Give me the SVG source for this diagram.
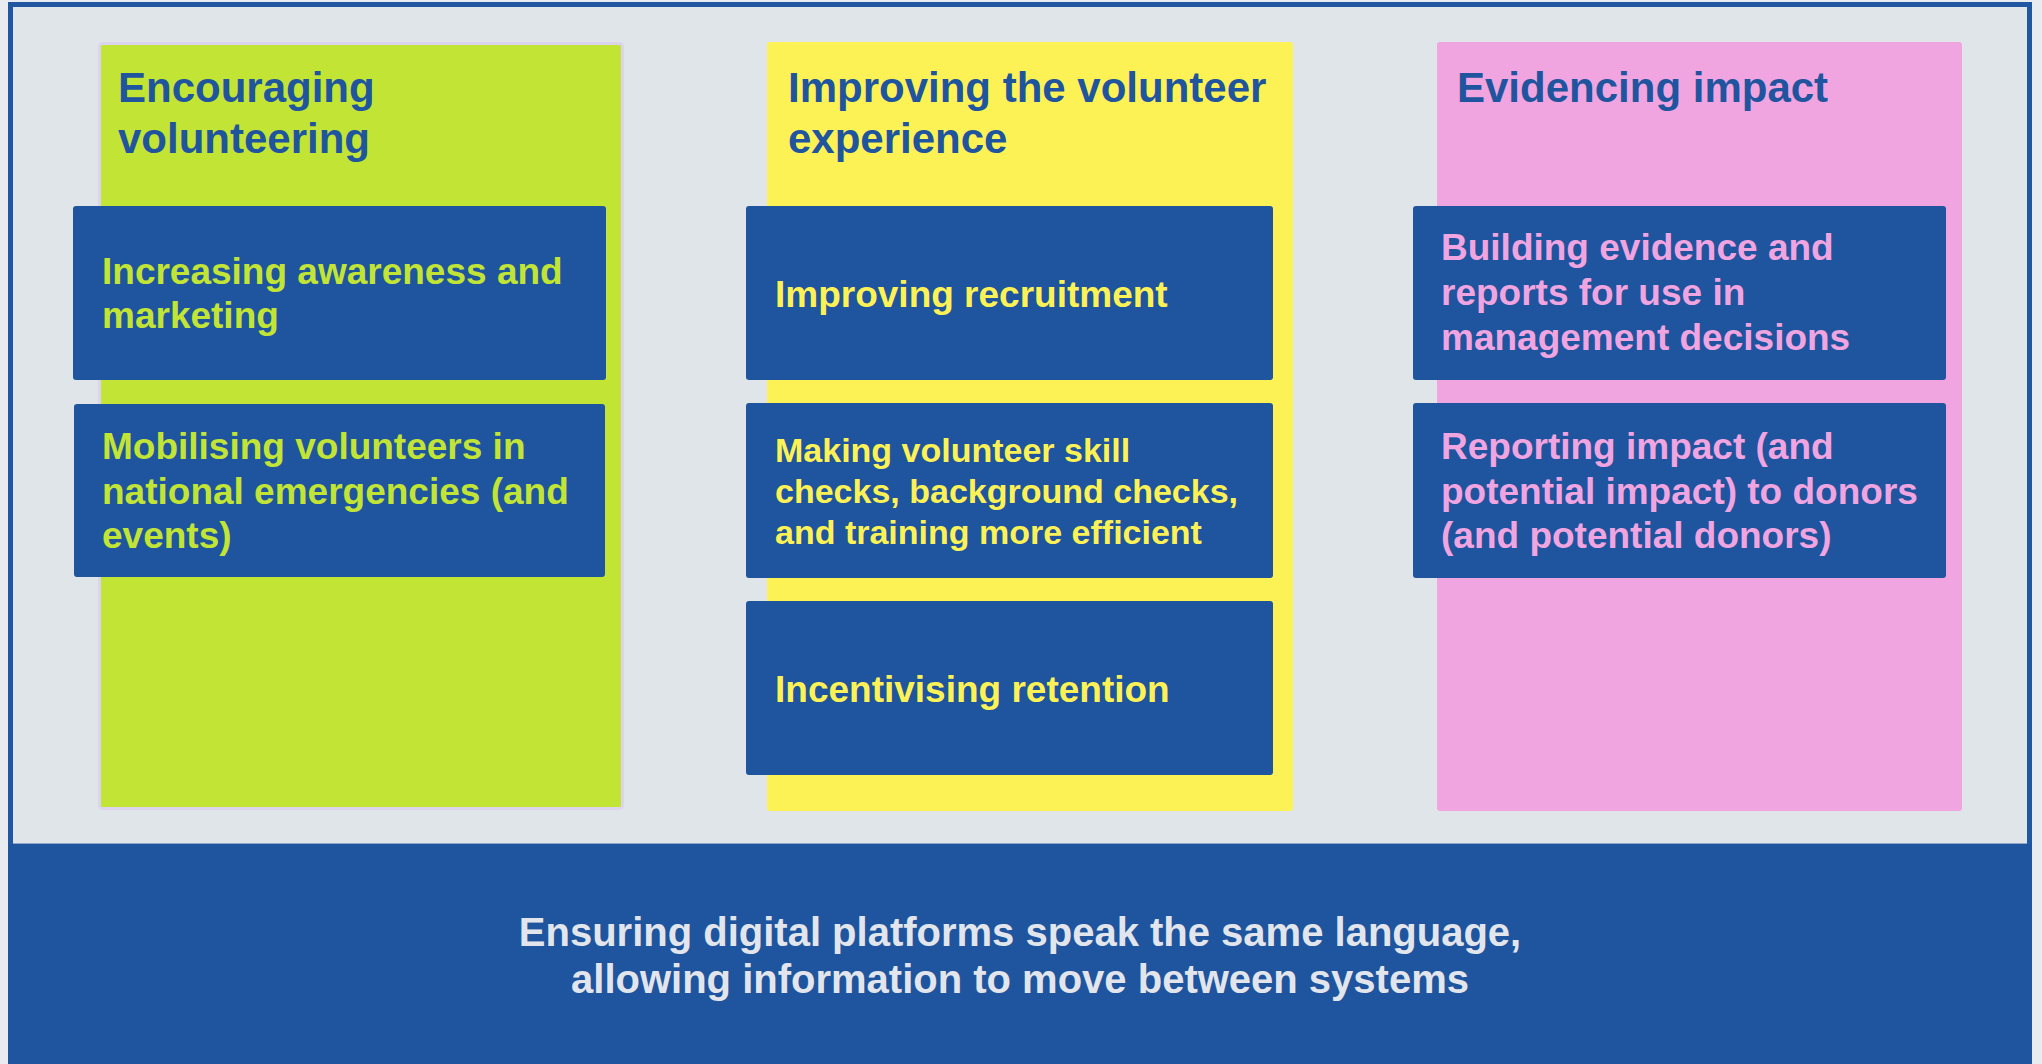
<svg xmlns="http://www.w3.org/2000/svg" width="2042" height="1064" viewBox="0 0 2042 1064">
  <style>
    text { font-family: "Liberation Sans", Arial, Helvetica, sans-serif; font-weight: bold; }
    .title { font-size: 42px; fill: #1f549e; }
    .item { fill: #1f549e; }
    .t37 { font-size: 37px; }
    .t34 { font-size: 34px; }
    .green { fill: #c2e435; }
    .yellow { fill: #fdf255; }
    .pink { fill: #f0a5e1; }
    .band-text { font-size: 40px; fill: #e2e6ec; }
  </style>

  <!-- page and frame -->
  <rect x="0" y="0" width="2042" height="1064" fill="#e8ecf0"/>
  <rect x="10.5" y="4.5" width="2019" height="1070" fill="#e0e5ea" stroke="#2157a1" stroke-width="5"/>

  <!-- column: Encouraging volunteering -->
  <g id="col-encouraging">
    <rect x="99.5" y="43.5" width="523" height="765" rx="3" fill="#c2e435" stroke="#dcd4ec" stroke-width="3"/>
    <text class="title" x="118" y="102">Encouraging</text>
    <text class="title" x="118" y="153">volunteering</text>
  </g>
  <g id="awareness">
    <rect class="item" x="73" y="206" width="533" height="174" rx="3"/>
    <text class="t37 green" x="102" y="284">Increasing awareness and</text>
    <text class="t37 green" x="102" y="328">marketing</text>
  </g>
  <g id="mobilising">
    <rect class="item" x="74" y="404" width="531" height="173" rx="3"/>
    <text class="t37 green" x="102" y="459">Mobilising volunteers in</text>
    <text class="t37 green" x="102" y="504">national emergencies (and</text>
    <text class="t37 green" x="102" y="548">events)</text>
  </g>

  <!-- column: Improving the volunteer experience -->
  <g id="col-experience">
    <rect x="767" y="42" width="526" height="769" rx="3" fill="#fdf255"/>
    <text class="title" x="788" y="102">Improving the volunteer</text>
    <text class="title" x="788" y="153">experience</text>
  </g>
  <g id="recruitment">
    <rect class="item" x="746" y="206" width="527" height="174" rx="3"/>
    <text class="t37 yellow" x="775" y="307">Improving recruitment</text>
  </g>
  <g id="checks">
    <rect class="item" x="746" y="403" width="527" height="175" rx="3"/>
    <text class="t34 yellow" x="775" y="462">Making volunteer skill</text>
    <text class="t34 yellow" x="775" y="503">checks, background checks,</text>
    <text class="t34 yellow" x="775" y="544">and training more efficient</text>
  </g>
  <g id="retention">
    <rect class="item" x="746" y="601" width="527" height="174" rx="3"/>
    <text class="t37 yellow" x="775" y="702">Incentivising retention</text>
  </g>

  <!-- column: Evidencing impact -->
  <g id="col-impact">
    <rect x="1437" y="42" width="525" height="769" rx="3" fill="#f0a5e1"/>
    <text class="title" x="1457" y="102">Evidencing impact</text>
  </g>
  <g id="evidence">
    <rect class="item" x="1413" y="206" width="533" height="174" rx="3"/>
    <text class="t37 pink" x="1441" y="260">Building evidence and</text>
    <text class="t37 pink" x="1441" y="305">reports for use in</text>
    <text class="t37 pink" x="1441" y="350">management decisions</text>
  </g>
  <g id="reporting">
    <rect class="item" x="1413" y="403" width="533" height="175" rx="3"/>
    <text class="t37 pink" x="1441" y="459">Reporting impact (and</text>
    <text class="t37 pink" x="1441" y="504">potential impact) to donors</text>
    <text class="t37 pink" x="1441" y="548">(and potential donors)</text>
  </g>

  <!-- foundation band -->
  <g id="foundation">
    <rect x="8" y="844" width="2024" height="220" fill="#1f549e"/>
    <line x1="13" y1="843.5" x2="2027" y2="843.5" stroke="#8fa6c8" stroke-width="1"/>
    <text class="band-text" x="1020" y="946" text-anchor="middle">Ensuring digital platforms speak the same language,</text>
    <text class="band-text" x="1020" y="993" text-anchor="middle">allowing information to move between systems</text>
  </g>
</svg>
